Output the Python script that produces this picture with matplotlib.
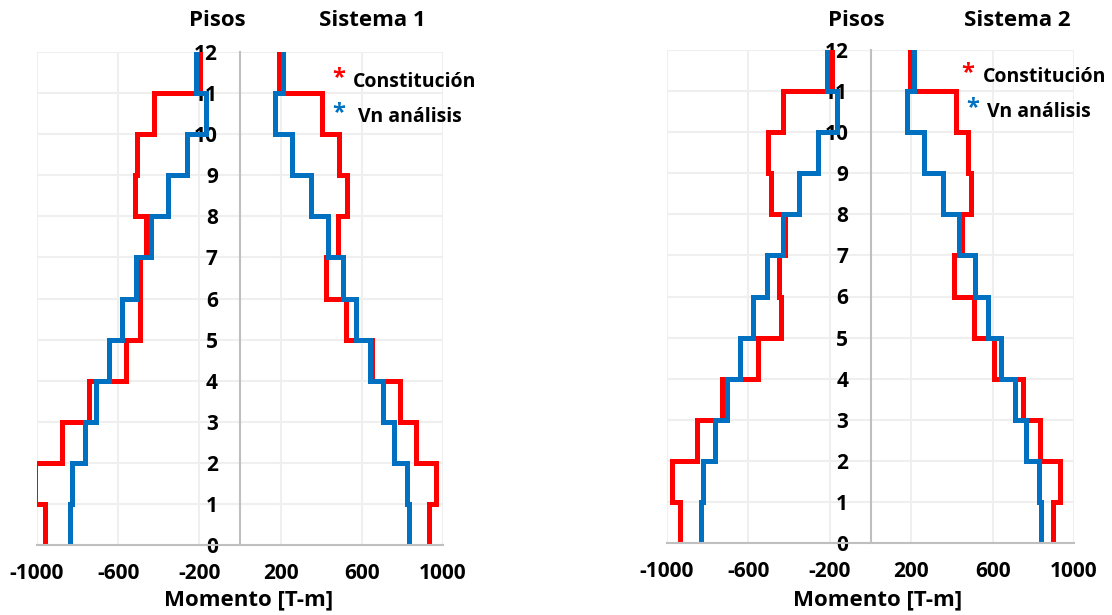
import matplotlib
matplotlib.use("Agg")
import matplotlib.pyplot as plt
import numpy as np

plt.rcParams['font.family'] = ['Open Sans', 'DejaVu Sans']
plt.rcParams['axes.unicode_minus'] = False

# story levels 0..12, one value per story (segment i -> i+1)
pisos = list(range(13))

# Sistema 1
s1_const_neg = [-961, -1010, -876, -745, -560, -491, -494, -463, -516, -507, -422, -195]
s1_vn_neg = [-835, -826, -766, -709, -647, -579, -511, -439, -355, -259, -169, -215]
s1_const_pos = [933, 966, 867, 789, 650, 524, 426, 483, 529, 486, 404, 193]
s1_vn_pos = [831, 822, 761, 704, 640, 573, 507, 434, 352, 257, 173, 214]

# Sistema 2
s2_const_neg = [-938, -977, -851, -728, -552, -442, -452, -422, -491, -504, -430, -188]
s2_vn_neg = [-832, -822, -764, -707, -642, -576, -507, -429, -352, -257, -167, -216]
s2_const_pos = [897, 933, 835, 748, 606, 507, 409, 450, 496, 480, 421, 193]
s2_vn_pos = [838, 827, 764, 712, 643, 578, 512, 437, 355, 262, 177, 216]

x_ticks = [-1000, -600, -200, 200, 600, 1000]

RED = '#FF0000'
BLUE = '#0070C0'
W, H = 1112, 615


def steps(vals):
    xs, ys = [], []
    for i, v in enumerate(vals):
        xs += [v, v]
        ys += [pisos[i], pisos[i + 1]]
    return xs, ys


def draw(ax, const_neg, vn_neg, const_pos, vn_pos):
    # light grid drawn by hand so the floor labels can sit above the lines
    for xv in x_ticks:
        ax.axvline(xv, color='#EFEFEF', lw=1.5, zorder=0)
    for yv in pisos:
        ax.axhline(yv, color='#EFEFEF', lw=1.5, zorder=0)
    for vals, c in [(const_neg, RED), (const_pos, RED), (vn_neg, BLUE), (vn_pos, BLUE)]:
        xs, ys = steps(vals)
        ax.plot(xs, ys, color=c, lw=3.6, solid_joinstyle='miter', zorder=2)
    ax.set_xlim(-1000, 1000)
    ax.set_ylim(0, 12)
    ax.set_xticks(x_ticks)
    ax.set_yticks(pisos)
    for s in ['top', 'right']:
        ax.spines[s].set_visible(False)
    ax.spines['left'].set_position(('data', 0))
    ax.spines['left'].set_color('#BFBFBF')
    ax.spines['left'].set_linewidth(1.5)
    ax.spines['bottom'].set_color('#BFBFBF')
    ax.spines['bottom'].set_linewidth(1.5)
    ax.tick_params(length=0, labelsize=15)
    ax.tick_params(axis='x', pad=13)
    ax.tick_params(axis='y', pad=16)
    for lab in ax.get_xticklabels() + ax.get_yticklabels():
        lab.set_fontweight('bold')


fig = plt.figure(figsize=(W / 100, H / 100), dpi=100)

ax1 = fig.add_axes([37 / W, 1 - 545 / H, 406 / W, 493 / H])
draw(ax1, s1_const_neg, s1_vn_neg, s1_const_pos, s1_vn_pos)
ax2 = fig.add_axes([667 / W, 1 - 543 / H, 407 / W, 493 / H])
draw(ax2, s2_const_neg, s2_vn_neg, s2_const_pos, s2_vn_pos)


def ftext(x, y, s, **kw):
    fig.text(x / W, 1 - y / H, s, fontweight='bold', **kw)


ftext(217, 20, 'Pisos', fontsize=16, ha='center', va='center')
ftext(372, 20, 'Sistema 1', fontsize=16, ha='center', va='center')
ftext(856, 20, 'Pisos', fontsize=16, ha='center', va='center')
ftext(1017, 20, 'Sistema 2', fontsize=16, ha='center', va='center')

ftext(249, 600, 'Momento [T-m]', fontsize=16, ha='center', va='center')
ftext(878, 600, 'Momento [T-m]', fontsize=16, ha='center', va='center')

# legend text boxes
ftext(339, 78, '*', fontsize=17, color=RED, ha='center', va='center')
ftext(353, 82, 'Constitución', fontsize=14, ha='left', va='center')
ftext(339, 113, '*', fontsize=17, color=BLUE, ha='center', va='center')
ftext(358, 117, 'Vn análisis', fontsize=14, ha='left', va='center')

ftext(968, 73, '*', fontsize=17, color=RED, ha='center', va='center')
ftext(983, 77, 'Constitución', fontsize=14, ha='left', va='center')
ftext(973, 108, '*', fontsize=17, color=BLUE, ha='center', va='center')
ftext(987, 112, 'Vn análisis', fontsize=14, ha='left', va='center')

fig.savefig('out.png', dpi=100)
